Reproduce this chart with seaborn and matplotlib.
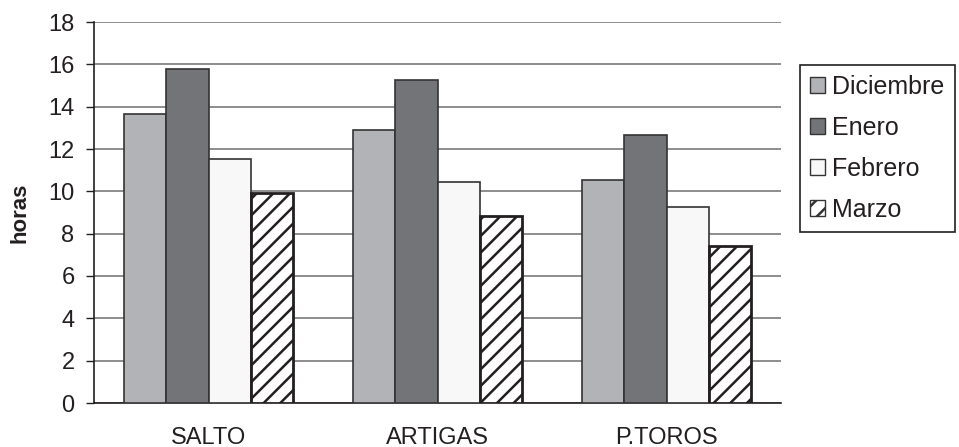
import numpy as np
import pandas as pd
import matplotlib
matplotlib.use("Agg")
import matplotlib.pyplot as plt
from matplotlib.patches import Patch
import seaborn as sns

# Data
ciudades = ["SALTO", "ARTIGAS", "P.TOROS"]
meses = ["Diciembre", "Enero", "Febrero", "Marzo"]
diciembre = [13.65, 12.9, 10.55]
enero = [15.8, 15.26, 12.65]
febrero = [11.55, 10.45, 9.27]
marzo = [9.93, 8.83, 7.43]

colores = ["#b2b3b7", "#737478", "#f8f8f8", "#ffffff"]

df = pd.DataFrame({
    "ciudad": ciudades * 4,
    "mes": [m for m in meses for _ in ciudades],
    "horas": diciembre + enero + febrero + marzo,
})

sns.set_style("white")
plt.rcParams["font.family"] = ["Liberation Sans", "DejaVu Sans"]
plt.rcParams["hatch.linewidth"] = 1.8
plt.rcParams["hatch.color"] = "#231f20"

fig = plt.figure(figsize=(9.59, 4.47), dpi=100)
ax = fig.add_axes([94 / 959, 44 / 447, 687 / 959, 381 / 447])

sns.barplot(data=df, x="ciudad", y="horas", hue="mes", hue_order=meses,
            palette=colores, width=0.735, gap=0, edgecolor="#333333",
            linewidth=1.2, saturation=1, ax=ax, legend=False, zorder=3)

# Hatch the last series
for bar in ax.containers[3]:
    bar.set_hatch("//")
    bar.set_edgecolor("#231f20")
    bar.set_linewidth(2)

ax.set_ylim(0, 18)
ax.set_xlim(-0.5, 2.5)
ax.set_yticks(np.arange(0, 19, 2))
ax.yaxis.grid(True, color="#7a7a7a", linewidth=1.2, zorder=0)
ax.set_axisbelow(True)

for s in ["top", "right"]:
    ax.spines[s].set_visible(False)
for s in ["left", "bottom"]:
    ax.spines[s].set_color("#231f20")
    ax.spines[s].set_linewidth(1.2)

ax.set_xticks([-0.5, 0.5, 1.5, 2.5], minor=True)
ax.tick_params(axis="x", which="major", length=0, pad=17, labelsize=17, colors="#231f20")
ax.tick_params(axis="x", which="minor", length=6, width=1, color="#231f20", direction="out")
ax.tick_params(axis="y", length=6, width=1, direction="out", labelsize=17,
               colors="#231f20", pad=8, left=True)

ax.set_xlabel("")
ax.set_ylabel("horas", fontsize=16, fontweight="bold", color="#231f20", labelpad=13)

handles = []
for i, m in enumerate(meses):
    handles.append(Patch(facecolor=colores[i], edgecolor="#333333",
                         hatch="//" if m == "Marzo" else None, label=m))
leg = fig.legend(handles=handles, loc="upper left", bbox_to_anchor=(800 / 959, 1 - 65 / 447),
                 frameon=True, fontsize=18, fancybox=False, framealpha=1,
                 edgecolor="#231f20", handlelength=0.6, handleheight=0.6,
                 handletextpad=0.3, labelspacing=0.68, borderpad=0.4, borderaxespad=0)
leg.get_frame().set_linewidth(1.2)
for t in leg.get_texts():
    t.set_color("#231f20")

fig.savefig("out.png", dpi=100)
